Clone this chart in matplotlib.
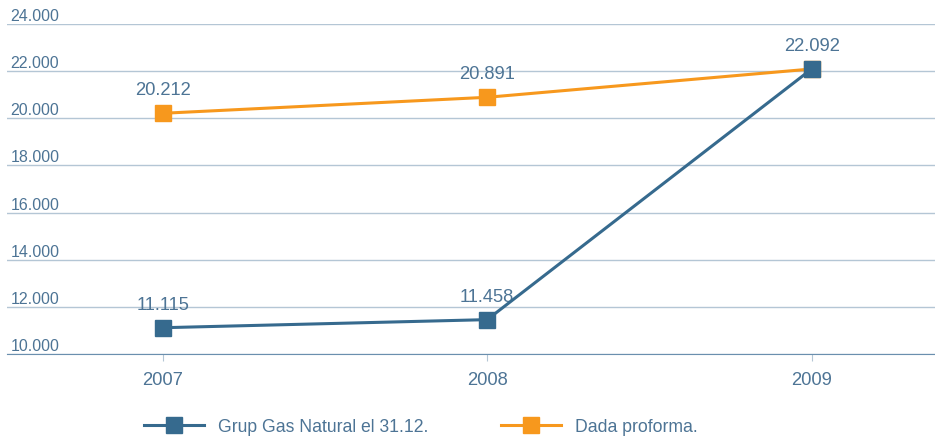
import matplotlib.pyplot as plt
import matplotlib.transforms as mtransforms

# Dades
years = [2007, 2008, 2009]
grup_gas = [11115, 11458, 22092]
proforma = [20212, 20891, 22092]
yticks = [10000, 12000, 14000, 16000, 18000, 20000, 22000, 24000]
labels = ['Grup Gas Natural el 31.12.', 'Dada proforma.']

blue = '#366a8e'
orange = '#f7981d'
txt = '#4d7495'
grid = '#b4c6d5'

plt.rcParams['font.family'] = ['Liberation Sans', 'DejaVu Sans']

fig = plt.figure(figsize=(9.35, 4.42), dpi=100)
ax = fig.add_axes([7 / 935, 1 - 354 / 442, 928 / 935, (354 - 24) / 442])

ax.plot(years, proforma, color=orange, lw=2.2, marker='s', ms=11, label=labels[1], zorder=3)
ax.plot(years, grup_gas, color=blue, lw=2.2, marker='s', ms=11, label=labels[0], zorder=4)

fmt = lambda v: f'{v:,}'.replace(',', '.')
for x, v in zip(years, grup_gas):
    ax.annotate(fmt(v), (x, v), xytext=(0, 10), textcoords='offset points',
                ha='center', va='bottom', fontsize=13.2, color=txt)
for x, v in zip(years[:2], proforma[:2]):
    ax.annotate(fmt(v), (x, v), xytext=(0, 10), textcoords='offset points',
                ha='center', va='bottom', fontsize=13.2, color=txt)

ax.set_xlim(2006.52, 2009.38)
ax.set_ylim(10000, 24000)
ax.set_yticks(yticks)
ax.set_yticklabels([])
ax.tick_params(axis='y', length=0)
ax.yaxis.grid(True, color=grid, lw=1)
ax.set_axisbelow(True)

trans = mtransforms.blended_transform_factory(ax.transAxes, ax.transData)
for v in yticks:
    ax.text(0.004, v, fmt(v), transform=trans, ha='left', va='bottom',
            fontsize=11.5, color=txt)

ax.set_xticks(years)
ax.set_xticklabels([str(y) for y in years], fontsize=13.2, color=txt)
ax.tick_params(axis='x', length=5, color=grid, pad=8)

for s in ['top', 'right', 'left']:
    ax.spines[s].set_visible(False)
ax.spines['bottom'].set_color('#6a8fae')

h, l = ax.get_legend_handles_labels()
fig.legend(h[::-1], l[::-1], loc='center', bbox_to_anchor=(0.45, 1 - 427 / 442),
           ncol=2, frameon=False, fontsize=12.7, labelcolor=txt,
           handlelength=3.4, columnspacing=4.1, handletextpad=0.8)

fig.savefig('out.png', dpi=100)
